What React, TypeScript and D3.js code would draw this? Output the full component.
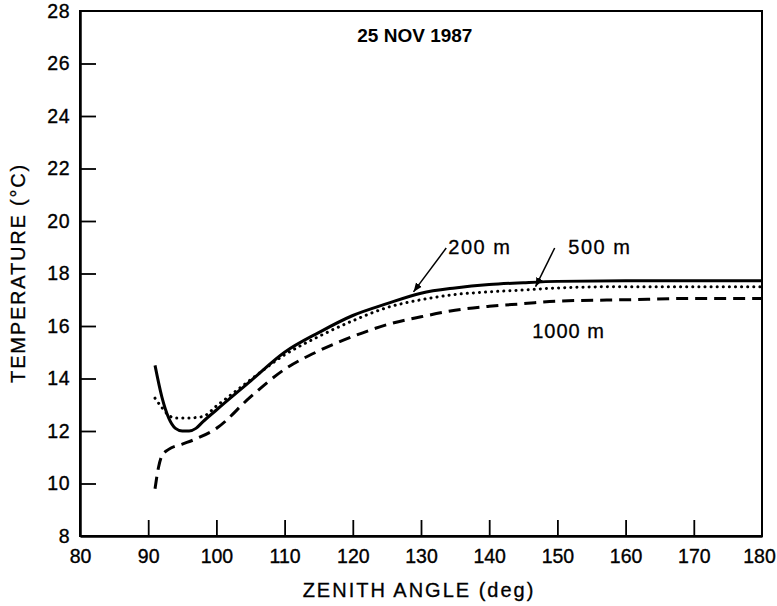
import React, { useEffect, useRef } from 'react';
import * as d3 from 'd3';

// zenith angle (deg) / temperature (°C)
const angle200 = [91, 92, 93, 94, 95, 96, 97, 98, 100, 105, 110, 115, 120, 125, 130, 135, 140, 145, 150, 160, 170, 180];
const temp200 = [14.5, 13.3, 12.5, 12.1, 12.0, 12.0, 12.1, 12.35, 12.8, 13.9, 15.0, 15.75, 16.4, 16.85, 17.25, 17.45, 17.58, 17.65, 17.7, 17.72, 17.72, 17.72];

const angle500 = [91, 92, 93, 94, 96, 98, 100, 105, 110, 115, 120, 125, 130, 135, 140, 145, 150, 160, 170, 180];
const temp500 = [13.25, 12.9, 12.6, 12.5, 12.5, 12.55, 12.95, 13.95, 14.9, 15.6, 16.2, 16.7, 17.0, 17.2, 17.3, 17.37, 17.45, 17.5, 17.5, 17.5];

const angle1000 = [91, 91.5, 92, 93, 95, 97, 100, 105, 110, 115, 120, 125, 130, 135, 140, 145, 150, 160, 170, 180];
const temp1000 = [9.8, 10.6, 11.05, 11.3, 11.5, 11.7, 12.1, 13.3, 14.35, 15.05, 15.6, 16.05, 16.35, 16.6, 16.75, 16.85, 16.95, 17.0, 17.05, 17.05];

const xTicks = [80, 90, 100, 110, 120, 130, 140, 150, 160, 170, 180];
const yTicks = [8, 10, 12, 14, 16, 18, 20, 22, 24, 26, 28];

const title = '25 NOV 1987';
const xTitle = 'ZENITH ANGLE (deg)';
const yTitle = 'TEMPERATURE (°C)';

export default function App() {
  const ref = useRef<SVGSVGElement>(null);
  const width = 777;
  const height = 606;
  const m = { top: 11, right: 15, bottom: 70, left: 80 };

  useEffect(() => {
    const svg = d3.select(ref.current);
    svg.selectAll('*').remove();
    const font = '"Liberation Sans", Arial, sans-serif';

    const x = d3.scaleLinear().domain([80, 180]).range([m.left, width - m.right]);
    const y = d3.scaleLinear().domain([8, 28]).range([height - m.bottom, m.top]);

    // frame
    svg.append('rect')
      .attr('x', x(80)).attr('y', y(28))
      .attr('width', x(180) - x(80)).attr('height', y(8) - y(28))
      .attr('fill', 'none').attr('stroke', '#000').attr('stroke-width', 2);

    // axes with inward ticks
    const xAxis = d3.axisBottom(x).tickValues(xTicks).tickSize(-16).tickPadding(13).tickSizeOuter(0);
    const yAxis = d3.axisLeft(y).tickValues(yTicks).tickSize(-16).tickPadding(10).tickSizeOuter(0);

    const gx = svg.append('g').attr('transform', `translate(0,${y(8)})`).call(xAxis);
    const gy = svg.append('g').attr('transform', `translate(${x(80)},0)`).call(yAxis);
    [gx, gy].forEach(g => {
      g.select('.domain').attr('stroke', '#000').attr('stroke-width', 2.5);
      g.selectAll('.tick line').attr('stroke', '#000').attr('stroke-width', 1.8);
      g.selectAll('.tick text').attr('fill', '#000')
        .attr('stroke', '#000').attr('stroke-width', 0.35)
        .style('font-family', font).style('font-size', '19.5px');
    });
    gy.selectAll('.tick text').style('letter-spacing', '0.5px');
    // keep the last label inside the page
    gx.selectAll('.tick').filter((d: any) => d === 180).select('text').attr('x', -3);
    // no tick marks at the corners
    gx.selectAll('.tick').filter((d: any) => d === 80 || d === 180).select('line').remove();
    gy.selectAll('.tick').filter((d: any) => d === 8 || d === 28).select('line').remove();

    // curves
    const line = d3.line<[number, number]>()
      .x(d => x(d[0])).y(d => y(d[1]))
      .curve(d3.curveMonotoneX);

    const series = [
      { xs: angle1000, ys: temp1000, dash: '12,7', w: 3, cap: 'butt' },
      { xs: angle500, ys: temp500, dash: '0.1,6', w: 3, cap: 'round' },
      { xs: angle200, ys: temp200, dash: null, w: 3, cap: 'butt' },
    ];
    series.forEach(s => {
      const pts = s.xs.map((v, i) => [v, s.ys[i]] as [number, number]);
      svg.append('path')
        .attr('d', line(pts))
        .attr('fill', 'none')
        .attr('stroke', '#000')
        .attr('stroke-width', s.w)
        .attr('stroke-linecap', s.cap)
        .attr('stroke-dasharray', s.dash);
    });

    // arrow annotations
    svg.append('defs').append('marker')
      .attr('id', 'ah').attr('viewBox', '0 0 10 10')
      .attr('refX', 10).attr('refY', 5)
      .attr('markerWidth', 6).attr('markerHeight', 6)
      .attr('orient', 'auto')
      .append('path').attr('d', 'M0,1 L10,5 L0,9 Z').attr('fill', '#000');

    const arrows = [
      { from: [133.7, 18.97], to: [128.9, 17.3] },
      { from: [149.6, 18.97], to: [146.8, 17.5] },
    ];
    arrows.forEach(a => {
      svg.append('line')
        .attr('x1', x(a.from[0])).attr('y1', y(a.from[1]))
        .attr('x2', x(a.to[0])).attr('y2', y(a.to[1]))
        .attr('stroke', '#000').attr('stroke-width', 1.5)
        .attr('marker-end', 'url(#ah)');
    });

    const labels = [
      { t: '200 m', at: [134.0, 18.75], ls: 1.5 },
      { t: '500 m', at: [151.6, 18.75], ls: 1.5 },
      { t: '1000 m', at: [146.3, 15.55], ls: 1 },
    ];
    labels.forEach(l => {
      svg.append('text')
        .attr('x', x(l.at[0])).attr('y', y(l.at[1]))
        .attr('stroke', '#000').attr('stroke-width', 0.3)
        .style('font-family', font).style('font-size', '20px')
        .style('letter-spacing', `${l.ls}px`)
        .text(l.t);
    });

    svg.append('text')
      .attr('x', x(129.1)).attr('y', 42)
      .attr('text-anchor', 'middle')
      .style('font-family', font).style('font-size', '19px').style('font-weight', 'bold')
      .text(title);

    svg.append('text')
      .attr('x', 419).attr('y', 597)
      .attr('text-anchor', 'middle')
      .attr('stroke', '#000').attr('stroke-width', 0.3)
      .style('font-family', font).style('font-size', '20px').style('letter-spacing', '2px')
      .text(xTitle);

    svg.append('text')
      .attr('transform', `translate(25,273) rotate(-90)`)
      .attr('text-anchor', 'middle')
      .attr('stroke', '#000').attr('stroke-width', 0.3)
      .style('font-family', font).style('font-size', '20px').style('letter-spacing', '1.8px')
      .text(yTitle);
  }, []);

  return (
    <svg ref={ref} width={width} height={height}
      style={{ position: 'absolute', left: 0, top: 0, background: '#fff' }} />
  );
}
